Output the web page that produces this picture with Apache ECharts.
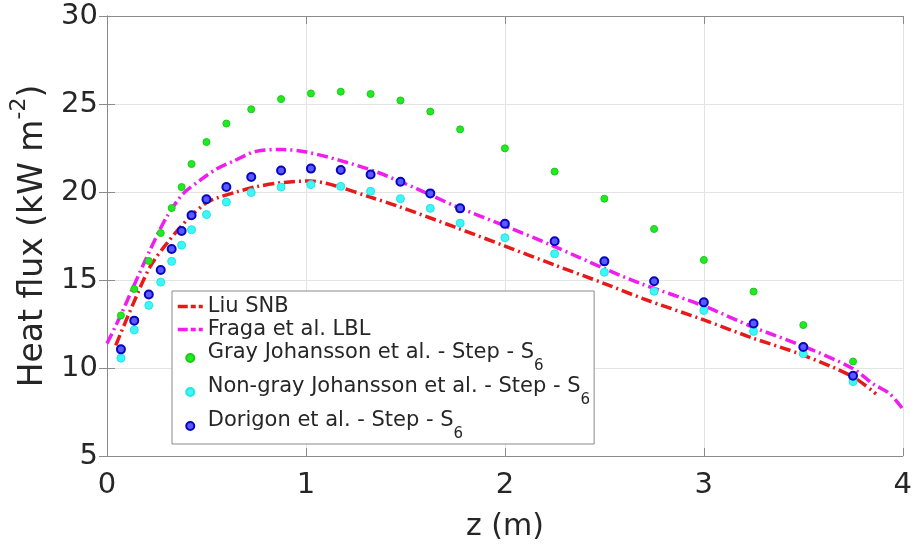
<!DOCTYPE html>
<html><head><meta charset="utf-8">
<script src="https://cdn.jsdelivr.net/npm/echarts@6/dist/echarts.min.js"></script>
<style>html,body{margin:0;padding:0;background:#fff}#c{width:915px;height:549px}</style>
</head><body><div id="c"></div>
<script>
// Liu SNB (red dash-dot line)
const liuZ = [0.044, 0.132, 0.216, 0.30, 0.40, 0.50, 0.55, 0.65, 0.75, 0.87, 1.02, 1.10, 1.17, 1.32, 1.463, 1.75, 2.0, 2.25, 2.5, 2.694, 3.0, 3.246, 3.495, 3.746, 3.866];
const liuQ = [11.29, 13.66, 15.74, 17.07, 18.39, 19.4, 19.65, 20.0, 20.3, 20.52, 20.63, 20.5, 20.28, 19.72, 19.19, 18.0, 16.93, 15.85, 14.8, 13.94, 12.73, 11.70, 10.75, 9.52, 8.53];
// Fraga et al. LBL (magenta dash-dot line)
const fragaZ = [0, 0.065, 0.132, 0.216, 0.30, 0.383, 0.467, 0.55, 0.634, 0.75, 0.885, 1.003, 1.17, 1.355, 1.556, 1.75, 2.0, 2.25, 2.5, 2.675, 2.996, 3.246, 3.495, 3.746, 3.849, 3.933, 3.997];
const fragaQ = [11.39, 12.9, 14.6, 16.69, 18.58, 19.91, 20.66, 21.3, 21.75, 22.31, 22.41, 22.27, 21.8, 21.14, 20.19, 19.2, 18.08, 16.9, 15.65, 14.83, 13.54, 12.33, 11.26, 9.99, 9.11, 8.55, 7.72];
// marker positions (z, m)
const pointZ = [0.07, 0.137, 0.21, 0.27, 0.325, 0.375, 0.425, 0.5, 0.6, 0.725, 0.875, 1.025, 1.175, 1.325, 1.475, 1.625, 1.775, 2.0, 2.25, 2.5, 2.75, 3.0, 3.25, 3.5, 3.75];
const grayQ = [12.99, 14.49, 16.08, 17.67, 19.09, 20.28, 21.59, 22.84, 23.89, 24.70, 25.28, 25.60, 25.70, 25.57, 25.20, 24.57, 23.56, 22.48, 21.16, 19.62, 17.9, 16.14, 14.34, 12.44, 10.37];
const nonGrayQ = [10.56, 12.16, 13.56, 14.88, 16.06, 16.98, 17.86, 18.72, 19.43, 19.97, 20.28, 20.42, 20.32, 20.04, 19.62, 19.07, 18.23, 17.40, 16.49, 15.44, 14.36, 13.27, 12.08, 10.81, 9.23];
const dorigonQ = [11.06, 12.69, 14.18, 15.57, 16.76, 17.78, 18.68, 19.59, 20.28, 20.85, 21.22, 21.33, 21.25, 20.99, 20.58, 19.92, 19.07, 18.19, 17.20, 16.06, 14.93, 13.73, 12.53, 11.19, 9.56];
const xTicks = [0, 1, 2, 3, 4];
const yTicks = [5, 10, 15, 20, 25, 30];
const seriesNames = ['Liu SNB', 'Fraga et al. LBL', 'Gray Johansson et al. - Step - S6', 'Non-gray Johansson et al. - Step - S6', 'Dorigon et al. - Step - S6'];

const zip = (a, b) => a.map((v, i) => [v, b[i]]);
const FONT = 'DejaVu Sans';
const TXT = '#262626';
const dashDot = [11, 4, 2, 4];
const hidden = 'rgba(0,0,0,0)';

const chart = echarts.init(document.getElementById('c'), null, {renderer: 'canvas'});
const baseAxis = {
  axisLine: {show: true, lineStyle: {color: '#8a8a8a', width: 1}},
  axisTick: {show: true, inside: true, length: 8, lineStyle: {color: '#8a8a8a'}},
};
chart.setOption({
  animation: false,
  backgroundColor: '#fff',
  textStyle: {fontFamily: FONT},
  grid: {left: 107, right: 11.5, top: 16, bottom: 93, containLabel: false},
  xAxis: [
    Object.assign({}, baseAxis, {
      type: 'value', min: xTicks[0], max: xTicks[xTicks.length - 1], interval: 1, position: 'bottom',
      name: 'z (m)', nameLocation: 'middle', nameGap: 56,
      nameTextStyle: {fontSize: 30, color: TXT, fontFamily: FONT},
      axisLabel: {fontSize: 29, color: TXT, margin: 15, fontFamily: FONT},
      splitLine: {show: true, lineStyle: {color: '#e3e3e3', width: 1}}
    }),
    Object.assign({}, baseAxis, {
      type: 'value', min: xTicks[0], max: xTicks[xTicks.length - 1], interval: 1, position: 'top',
      axisLabel: {show: false}, splitLine: {show: false}
    })
  ],
  yAxis: [
    Object.assign({}, baseAxis, {
      type: 'value', min: yTicks[0], max: yTicks[yTicks.length - 1], interval: 5, position: 'left',
      name: '{m|Heat flux (kW m}{sup|-2}{m|)}', nameLocation: 'middle', nameGap: 50, nameRotate: 90,
      nameTextStyle: {color: TXT, fontFamily: FONT,
        rich: {m: {fontSize: 33, lineHeight: 42, verticalAlign: 'bottom', color: TXT, fontFamily: FONT},
               sup: {fontSize: 22, lineHeight: 26, verticalAlign: 'top', color: TXT, fontFamily: FONT}}},
      axisLabel: {fontSize: 29, color: TXT, margin: 9, fontFamily: FONT},
      splitLine: {show: true, lineStyle: {color: '#e3e3e3', width: 1}}
    }),
    Object.assign({}, baseAxis, {
      type: 'value', min: yTicks[0], max: yTicks[yTicks.length - 1], interval: 5, position: 'right',
      axisLabel: {show: false}, splitLine: {show: false}
    })
  ],
  legend: {
    orient: 'vertical', left: 172, top: 291,
    backgroundColor: '#fff', borderColor: '#8a8a8a', borderWidth: 1, borderRadius: 0,
    padding: [5, 4, 2, 4], itemGap: 2, itemWidth: 25, itemHeight: 8,
    data: [
      {name: seriesNames[0], itemStyle: {color: hidden, borderColor: hidden, borderWidth: 0},
       lineStyle: {width: 3.5, type: [10, 3, 5, 3]}},
      {name: seriesNames[1], itemStyle: {color: hidden, borderColor: hidden, borderWidth: 0},
       lineStyle: {width: 3.5, type: [10, 3, 5, 3]}},
      seriesNames[2], seriesNames[3], seriesNames[4]
    ],
    formatter: function (name) {
      if (name.endsWith(' - S6')) return '{m|' + name.slice(0, -1) + '}{sub|6}';
      return '{p|' + name + '}';
    },
    textStyle: {color: TXT, fontFamily: FONT, fontSize: 21,
      rich: {
        p: {fontSize: 21, lineHeight: 29, color: TXT, fontFamily: FONT},
        m: {fontSize: 21, lineHeight: 24, verticalAlign: 'top', color: TXT, fontFamily: FONT},
        sub: {fontSize: 15, lineHeight: 32, verticalAlign: 'bottom', color: TXT, fontFamily: FONT}
      }}
  },
  series: [
    {name: seriesNames[0], type: 'line', data: zip(liuZ, liuQ), symbol: 'none', smooth: 0.3,
     lineStyle: {color: '#e8191a', width: 3.5, type: dashDot}, itemStyle: {color: '#e8191a'}, z: 2},
    {name: seriesNames[1], type: 'line', data: zip(fragaZ, fragaQ), symbol: 'none', smooth: 0.3,
     lineStyle: {color: '#f01cf0', width: 3.5, type: dashDot}, itemStyle: {color: '#f01cf0'}, z: 2},
    {name: seriesNames[2], type: 'scatter', data: zip(pointZ, grayQ), symbol: 'circle', symbolSize: 7,
     itemStyle: {color: '#22ea22', borderColor: '#18cc18', borderWidth: 1, opacity: 1}, z: 3},
    {name: seriesNames[3], type: 'scatter', data: zip(pointZ, nonGrayQ), symbol: 'circle', symbolSize: 8,
     itemStyle: {color: '#3ff5f5', borderColor: '#22e6e6', borderWidth: 1, opacity: 1}, z: 3},
    {name: seriesNames[4], type: 'scatter', data: zip(pointZ, dorigonQ), symbol: 'circle', symbolSize: 8,
     itemStyle: {color: '#5a5aff', borderColor: '#0606c0', borderWidth: 2, opacity: 1}, z: 4}
  ]
});
</script>
</body></html>
